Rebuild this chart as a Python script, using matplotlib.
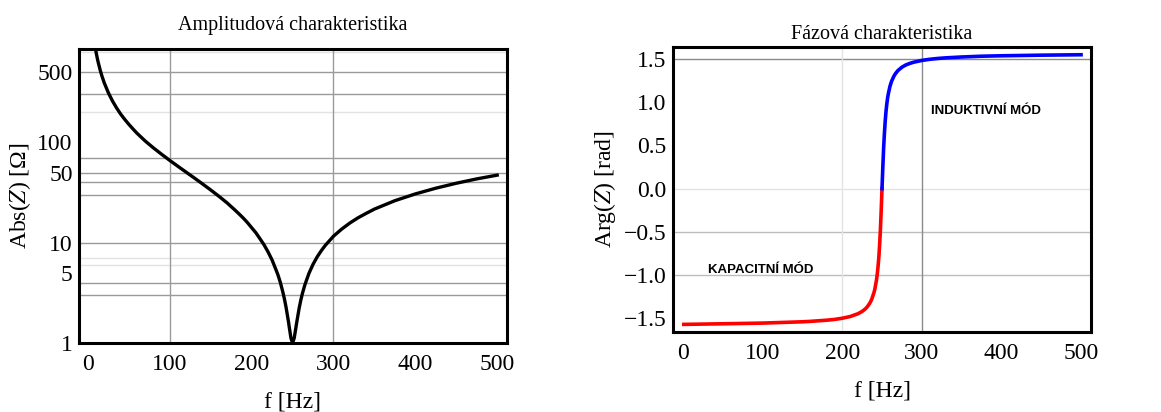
import matplotlib
matplotlib.use("Agg")
import matplotlib.pyplot as plt
import numpy as np

# impedance magnitude
f_abs = [9, 10, 12, 15, 17, 20, 25, 30, 35, 40, 45, 50, 55, 60, 70, 80, 90, 100, 110, 120,
         130, 140, 150, 160, 170, 180, 185, 190, 195, 200, 205, 210, 215, 220, 225, 230, 232,
         235, 238, 240, 242, 245, 246, 248, 250, 252, 254, 255, 258, 260, 262, 265, 270, 275,
         280, 285, 290, 300, 310, 320, 330, 340, 350, 375, 400, 425, 450, 475, 500]
abs_z = [872, 784, 653, 522, 460, 390, 311, 258, 220, 191, 169, 151, 136, 123, 103, 88, 76,
         66, 57.6, 50.4, 44.1, 38.5, 33.5, 29.0, 24.9, 21.0, 19.2, 17.5, 15.8, 14.1, 12.6,
         11.0, 9.56, 8.1, 6.71, 5.3, 4.81, 4.03, 3.25, 2.76, 2.28, 1.63, 1.43, 1.12, 1.0,
         1.12, 1.41, 1.59, 2.21, 2.66, 3.11, 3.79, 4.94, 6.08, 7.2, 8.3, 9.4, 11.6, 13.65,
         15.7, 17.7, 19.6, 21.6, 26.2, 30.6, 34.9, 39.1, 43.2, 47.1]

# phase
f_arg = [1, 50, 100, 150, 160, 180, 190, 200, 210, 220, 225, 228, 230, 232, 235, 237, 240,
         241, 243, 244, 245, 246, 247, 248, 249, 250, 251, 252, 253, 254, 255, 256, 257, 258,
         260, 262, 265, 267, 270, 275, 280, 285, 290, 300, 310, 320, 330, 350, 375, 400, 450,
         500]
arg_z = [-1.571, -1.564, -1.556, -1.541, -1.536, -1.523, -1.514, -1.500, -1.480, -1.447,
         -1.421, -1.400, -1.383, -1.361, -1.320, -1.282, -1.200, -1.162, -1.061, -0.992,
         -0.904, -0.795, -0.650, -0.472, -0.249, 0.0, 0.245, 0.464, 0.637, 0.780, 0.892,
         0.979, 1.049, 1.101, 1.185, 1.243, 1.303, 1.333, 1.367, 1.406, 1.432, 1.450, 1.464,
         1.484, 1.4975, 1.507, 1.514, 1.524, 1.533, 1.538, 1.545, 1.550]

abs_ticks = [1, 5, 10, 50, 100, 500]
abs_grid_dark = [3, 4, 10, 30, 40, 50, 70, 300, 500]
abs_grid_light = [6, 7, 200, 800]
arg_ticks = [-1.5, -1.0, -0.5, 0.0, 0.5, 1.0, 1.5]

plt.rcParams['font.family'] = ['Liberation Serif', 'DejaVu Serif']
plt.rcParams['mathtext.fontset'] = 'stix'

fig = plt.figure(figsize=(11.61, 4.12), dpi=100)
ax1 = fig.add_axes([0.068, 0.1675, 0.3687, 0.7135])
ax2 = fig.add_axes([0.5797, 0.194, 0.36, 0.692])

dark = '#9a9a9a'
light = '#e3e3e3'

# left: amplitude
ax1.set_yscale('log')
ax1.set_xlim(-11, 512)
ax1.set_ylim(1, 851)
for v in abs_grid_dark:
    ax1.axhline(v, color=dark, lw=1, zorder=0)
for v in abs_grid_light:
    ax1.axhline(v, color=light, lw=1, zorder=0)
for v in [100, 300]:
    ax1.axvline(v, color=dark, lw=1, zorder=0)
ax1.plot(f_abs, abs_z, color='black', lw=2.4)
ax1.set_yticks(abs_ticks)
ax1.set_yticklabels([str(t) for t in abs_ticks])
ax1.yaxis.set_minor_locator(matplotlib.ticker.NullLocator())
ax1.set_xticks([0, 100, 200, 300, 400, 500])
ax1.set_title('Amplitudová charakteristika', fontsize=14.5, pad=14)
ax1.set_xlabel('f [Hz]', fontsize=17, labelpad=12)
ax1.set_ylabel('Abs($Z$) [Ω]', fontsize=17, labelpad=3)

# right: phase
ax2.set_xlim(-12.5, 512.5)
ax2.set_ylim(-1.66, 1.64)
ax2.axhline(1.5, color='#8a8a8a', lw=1, zorder=0)
ax2.axhline(0.0, color=light, lw=1, zorder=0)
ax2.axhline(-0.5, color='#bdbdbd', lw=1, zorder=0)
ax2.axhline(-1.0, color='#bdbdbd', lw=1, zorder=0)
ax2.axvline(200, color=light, lw=1, zorder=0)
ax2.axvline(300, color='#8a8a8a', lw=1, zorder=0)
f_arg = np.array(f_arg)
arg_z = np.array(arg_z)
cap = f_arg <= 250
ind = f_arg >= 250
ax2.plot(f_arg[cap], arg_z[cap], color='#ff0000', lw=2.6)
ax2.plot(f_arg[ind], arg_z[ind], color='#0000ff', lw=2.6)
ax2.set_yticks(arg_ticks)
ax2.set_yticklabels([('%.1f' % t).replace('-', '\u2212') for t in arg_ticks])
ax2.set_xticks([0, 100, 200, 300, 400, 500])
ax2.text(31, -0.94, 'KAPACITNÍ MÓD', family=['Liberation Sans Narrow', 'Liberation Sans'],
         fontweight='bold', fontsize=9.5, va='center', ha='left')
ax2.text(312, 0.895, 'INDUKTIVNÍ MÓD', family=['Liberation Sans Narrow', 'Liberation Sans'],
         fontweight='bold', fontsize=9.5, va='center', ha='left')
ax2.set_title('Fázová charakteristika', fontsize=14.5, pad=6)
ax2.set_xlabel('f [Hz]', fontsize=17, labelpad=12)
ax2.set_ylabel('Arg($Z$) [rad]', fontsize=17, labelpad=4)

for ax in (ax1, ax2):
    ax.tick_params(axis='x', length=0, labelsize=17, pad=8)
    ax.tick_params(axis='y', length=0, labelsize=17, pad=4.5)
    for s in ax.spines.values():
        s.set_linewidth(2.2)
        s.set_color('black')

fig.savefig('out.png', dpi=100)
